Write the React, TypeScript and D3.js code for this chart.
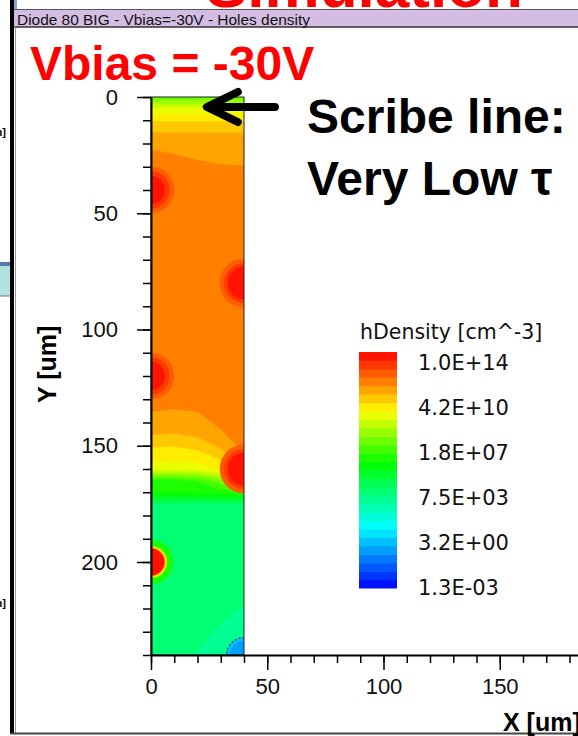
import React, { useEffect, useRef } from 'react';
import * as d3 from 'd3';

// hole density field, log10(cm^-3), sampled at these x columns (um) every yStep um
const xCols = [0, 10, 20, 30, 40];
const yStep = 5;
const logDensityRows = [
  [7.5, 7.5, 7.5, 7.5, 7.5], // y = 0
  [9.3, 9.3, 9.3, 9.3, 9.3],
  [10.3, 10.3, 10.3, 10.3, 10.3],
  [10.95, 10.95, 10.95, 10.95, 10.95],
  [11.45, 11.4, 11.35, 11.3, 11.3], // y = 20
  [11.7, 11.6, 11.5, 11.45, 11.45],
  [11.9, 11.8, 11.7, 11.62, 11.6],
  [11.9, 11.9, 11.85, 11.8, 11.75],
  [11.9, 11.9, 11.9, 11.9, 11.9], // y = 40
  [11.9, 11.9, 11.9, 11.9, 11.9],
  [11.9, 11.9, 11.9, 11.9, 11.9],
  [11.9, 11.9, 11.9, 11.9, 11.9],
  [11.9, 11.9, 11.9, 11.9, 11.9], // y = 60
  [11.9, 11.9, 11.9, 11.9, 11.9],
  [11.9, 11.9, 11.9, 11.9, 11.9],
  [11.9, 11.9, 11.9, 11.9, 11.9],
  [11.9, 11.9, 11.9, 11.9, 11.9], // y = 80
  [11.9, 11.9, 11.9, 11.9, 11.9],
  [11.9, 11.9, 11.9, 11.9, 11.9],
  [11.9, 11.9, 11.9, 11.9, 11.9],
  [11.9, 11.9, 11.9, 11.9, 11.9], // y = 100
  [11.9, 11.9, 11.9, 11.9, 11.9],
  [11.9, 11.9, 11.9, 11.9, 11.9],
  [11.9, 11.9, 11.9, 11.9, 11.9],
  [11.9, 11.9, 11.9, 11.9, 11.9], // y = 120
  [11.9, 11.9, 11.9, 11.9, 11.9],
  [11.8, 11.75, 11.8, 11.9, 11.9], // y = 130
  [11.6, 11.55, 11.6, 11.85, 11.9],
  [11.3, 11.3, 11.4, 11.7, 11.9],
  [11.0, 10.95, 11.1, 11.5, 11.9],
  [10.45, 10.4, 10.6, 11.1, 11.8], // y = 150
  [9.95, 9.9, 10.0, 10.5, 11.6],
  [9.5, 9.45, 9.5, 9.9, 11.0],
  [6.5, 6.5, 6.8, 7.8, 8.8],
  [6.25, 6.25, 6.3, 6.4, 6.6], // y = 170
  [4.15, 4.15, 4.15, 4.2, 4.3],
  [4.1, 4.1, 4.1, 4.1, 4.1],
  [4.1, 4.1, 4.1, 4.1, 4.1],
  [4.1, 4.1, 4.1, 4.1, 4.1], // y = 190
  [4.1, 4.1, 4.1, 4.1, 4.1],
  [4.1, 4.1, 4.1, 4.05, 4.0], // y = 200
  [4.1, 4.1, 4.05, 4.0, 3.95],
  [4.1, 4.1, 4.0, 3.95, 3.9],
  [4.05, 4.05, 4.0, 3.9, 3.85],
  [4.05, 4.0, 3.95, 3.85, 3.72], // y = 220
  [4.0, 3.98, 3.9, 3.78, 3.62],
  [4.0, 3.95, 3.85, 3.7, 3.5],
  [3.95, 3.92, 3.8, 3.6, 3.35],
  [3.95, 3.9, 3.72, 3.5, 3.1], // y = 240
];

// localized spots: centre (um) and rings [radius um, log10 density]
const hotSpots = [
  { x: 0, y: 40, rings: [[10, 12.5], [8, 13.1], [6, 13.7]], dashed: false },
  { x: 40, y: 80, rings: [[10.5, 12.5], [8.5, 13.1], [7, 13.7]], dashed: false },
  { x: 0, y: 120, rings: [[10, 12.5], [8, 13.1], [6, 13.7]], dashed: false },
  { x: 40, y: 160, rings: [[10.5, 12.5], [8.5, 13.1], [7, 13.7]], dashed: false },
  { x: 0, y: 200, rings: [[9.5, 6.6], [6.8, 10.0], [6.3, 11.3], [5.8, 13.7]], dashed: false },
  { x: 40, y: 240, rings: [[7.5, 0.6], [6, -0.2]], dashed: true },
];

const legendLabels = ['1.0E+14', '4.2E+10', '1.8E+07', '7.5E+03', '3.2E+00', '1.3E-03'];
const legendValues = [14, 10.62, 7.26, 3.88, 0.51, -2.89];
const yMajorTicks = [0, 50, 100, 150, 200];
const xMajorTicks = [0, 50, 100, 150];

const W = 578;
const H = 736;
const FONT = "'Liberation Sans', Arial, Helvetica, sans-serif";
const LEGEND_FONT = "'DejaVu Sans', Verdana, sans-serif";
const vMin = -2.886;
const vMax = 14;
const nBands = 28;

const App = () => {
  const ref = useRef<SVGSVGElement>(null);

  useEffect(() => {
    document.body.style.margin = '0';
    const svg = d3.select(ref.current);
    svg.selectAll('*').remove();

    const xScale = d3.scaleLinear().domain([0, 200]).range([151, 151 + 200 * 2.325]);
    const yScale = d3.scaleLinear().domain([0, 240]).range([97, 655]);

    const step = (vMax - vMin) / nBands;
    const rainbow = d3.scaleLinear<string>()
      .domain([0, 0.26, 0.53, 0.75, 1])
      .range(['#0000ff', '#00ffff', '#00ff00', '#ffff00', '#ff0000'])
      .interpolate(d3.interpolateRgb)
      .clamp(true);
    const bandIndex = (v: number) => Math.max(0, Math.min(nBands - 1, Math.floor((v - vMin) / step)));
    const bandColor = (v: number) => rainbow((bandIndex(v) + 0.5) / nBands);

    svg.append('rect').attr('width', W).attr('height', H).attr('fill', '#fff');

    // slide title peeking in above the window
    svg.append('text')
      .attr('x', 206).attr('y', 7)
      .attr('font-family', FONT).attr('font-weight', 'bold').attr('font-size', 62)
      .attr('fill', '#ff0000')
      .text('Simulation');

    // window title bar
    svg.append('rect').attr('x', 14).attr('y', 9).attr('width', W - 14).attr('height', 18).attr('fill', '#d4bde2');
    svg.append('line').attr('x1', 14).attr('x2', W).attr('y1', 9.5).attr('y2', 9.5).attr('stroke', '#555');
    svg.append('line').attr('x1', 14).attr('x2', W).attr('y1', 27).attr('y2', 27).attr('stroke', '#333').attr('stroke-width', 1.5);
    svg.append('text')
      .attr('x', 17).attr('y', 24.5)
      .attr('font-family', FONT).attr('font-size', 15)
      .attr('textLength', 293).attr('lengthAdjust', 'spacingAndGlyphs')
      .attr('fill', '#111')
      .text('Diode 80 BIG - Vbias=-30V - Holes density');

    // neighbouring window on the left
    svg.append('rect').attr('x', 0).attr('y', 262).attr('width', 13).attr('height', 34).attr('fill', '#b2e2e2');
    svg.append('rect').attr('x', 0).attr('y', 262).attr('width', 13).attr('height', 4).attr('fill', '#5a78a8');
    svg.append('line').attr('x1', 0).attr('x2', 13).attr('y1', 296).attr('y2', 296).attr('stroke', '#777');
    [136, 607].forEach(y => {
      svg.append('text').attr('x', 6).attr('y', y).attr('text-anchor', 'end')
        .attr('font-family', FONT).attr('font-weight', 'bold').attr('font-size', 11).text('m]');
    });
    svg.append('rect').attr('x', 14).attr('y', 0).attr('width', 3).attr('height', 9).attr('fill', '#7fa6d8');
    svg.append('rect').attr('x', 10).attr('y', 0).attr('width', 4).attr('height', 734).attr('fill', '#000');
    svg.append('line').attr('x1', 15.5).attr('x2', 15.5).attr('y1', 27).attr('y2', 733).attr('stroke', '#999');
    svg.append('line').attr('x1', 10).attr('x2', W).attr('y1', 733.5).attr('y2', 733.5).attr('stroke', '#444').attr('stroke-width', 2);

    // device field
    const clipId = 'device-clip';
    svg.append('clipPath').attr('id', clipId)
      .append('rect')
      .attr('x', xScale(0)).attr('y', yScale(0))
      .attr('width', xScale(40) - xScale(0)).attr('height', yScale(240) - yScale(0));

    const nx = xCols.length;
    const ny = logDensityRows.length;
    const dx = xCols[1] - xCols[0];
    const thresholds = d3.range(nBands).map(k => vMin + k * step);
    const bands = d3.contours().size([nx, ny]).thresholds(thresholds)(logDensityRows.flat());
    const projection = d3.geoTransform({
      point(px: number, py: number) {
        this.stream.point(xScale((px - 0.5) * dx), yScale((py - 0.5) * yStep));
      },
    });
    const path = d3.geoPath(projection);

    const field = svg.append('g').attr('clip-path', `url(#${clipId})`);
    field.selectAll('path.band')
      .data(bands)
      .join('path')
      .attr('class', 'band')
      .attr('d', d => path(d as any))
      .attr('fill', d => bandColor(d.value + step / 2))
      .attr('stroke', d => bandColor(d.value + step / 2))
      .attr('stroke-width', 0.6);

    const rPx = (r: number) => xScale(r) - xScale(0);
    hotSpots.forEach(s => {
      s.rings.forEach(([r, v]) => {
        field.append('circle')
          .attr('cx', xScale(s.x)).attr('cy', yScale(s.y))
          .attr('r', rPx(r))
          .attr('fill', bandColor(v));
      });
      if (s.dashed) {
        field.append('circle')
          .attr('cx', xScale(s.x)).attr('cy', yScale(s.y))
          .attr('r', rPx(s.rings[0][0]))
          .attr('fill', 'none').attr('stroke', '#333')
          .attr('stroke-width', 1.2).attr('stroke-dasharray', '2,2');
      }
    });

    svg.append('rect')
      .attr('x', xScale(0)).attr('y', yScale(0))
      .attr('width', xScale(40) - xScale(0)).attr('height', yScale(240) - yScale(0))
      .attr('fill', 'none').attr('stroke', '#222').attr('stroke-width', 1);

    // axes
    const yMinor = svg.append('g').attr('transform', `translate(${xScale(0)},0)`)
      .call(d3.axisLeft(yScale).tickValues(d3.range(0, 241, 10)).tickSize(8).tickFormat(() => ''));
    yMinor.select('.domain').remove();
    const yAxis = svg.append('g').attr('transform', `translate(${xScale(0)},0)`)
      .call(d3.axisLeft(yScale).tickValues(yMajorTicks).tickSize(14).tickSizeOuter(0).tickPadding(19));
    yAxis.select('.domain').attr('stroke-width', 2);

    const xMinor = svg.append('g').attr('transform', `translate(0,${yScale(240)})`)
      .call(d3.axisBottom(xScale).tickValues(d3.range(0, 190, 10)).tickSize(8).tickFormat(() => ''));
    xMinor.select('.domain').remove();
    const xAxis = svg.append('g').attr('transform', `translate(0,${yScale(240)})`)
      .call(d3.axisBottom(xScale).tickValues(xMajorTicks).tickSize(15).tickSizeOuter(0).tickPadding(8));
    xAxis.select('.domain').attr('stroke-width', 2);

    svg.selectAll('.tick line').attr('stroke', '#000').attr('stroke-width', 1.5);
    svg.selectAll('.tick text')
      .attr('font-family', FONT).attr('font-size', 22).attr('fill', '#111');

    svg.append('text')
      .attr('transform', `translate(56,${yScale(115)}) rotate(-90)`)
      .attr('text-anchor', 'middle')
      .attr('font-family', FONT).attr('font-weight', 'bold').attr('font-size', 25)
      .text('Y [um]');
    svg.append('text')
      .attr('x', 503).attr('y', 731)
      .attr('font-family', FONT).attr('font-weight', 'bold').attr('font-size', 25)
      .text('X [um]');

    // colour legend
    const legendY = d3.scaleLinear().domain([vMin, vMax]).range([588, 352]);
    const labelY = d3.scaleLinear().domain([vMin, vMax]).range([587.5, 362.5]);
    svg.append('g').selectAll('rect')
      .data(d3.range(nBands))
      .join('rect')
      .attr('x', 359).attr('width', 38)
      .attr('y', k => legendY(vMin + (k + 1) * step))
      .attr('height', k => legendY(vMin + k * step) - legendY(vMin + (k + 1) * step) + 0.5)
      .attr('fill', k => rainbow((k + 0.5) / nBands));
    svg.append('text')
      .attr('x', 360).attr('y', 339)
      .attr('font-family', LEGEND_FONT).attr('font-size', 20.5).attr('fill', '#111')
      .text('hDensity [cm^-3]');
    svg.append('g').selectAll('text')
      .data(legendValues)
      .join('text')
      .attr('x', 418)
      .attr('y', v => labelY(v))
      .attr('dy', '0.36em')
      .attr('font-family', LEGEND_FONT).attr('font-size', 21).attr('fill', '#111')
      .text((v, i) => legendLabels[i]);

    // slide annotations
    svg.append('text')
      .attr('x', 30).attr('y', 80)
      .attr('font-family', FONT).attr('font-weight', 'bold').attr('font-size', 48)
      .attr('fill', '#ff0000')
      .text('Vbias = -30V');
    svg.append('text')
      .attr('x', 307).attr('y', 133)
      .attr('font-family', FONT).attr('font-weight', 'bold').attr('font-size', 48)
      .text('Scribe line:');
    svg.append('text')
      .attr('x', 307).attr('y', 195)
      .attr('font-family', FONT).attr('font-weight', 'bold').attr('font-size', 48)
      .text('Very Low τ');

    const tipX = xScale(24);
    const tipY = yScale(4.3);
    svg.append('path')
      .attr('d', `M${xScale(53.3)},${tipY}H${tipX + 4}M${tipX + 31},${tipY - 15}L${tipX},${tipY}L${tipX + 31},${tipY + 15}`)
      .attr('fill', 'none').attr('stroke', '#000')
      .attr('stroke-width', 8).attr('stroke-linecap', 'round').attr('stroke-linejoin', 'round');
  }, []);

  return (
    <svg ref={ref} width={W} height={H} style={{ position: 'absolute', left: 0, top: 0, display: 'block' }} />
  );
};

export default App;
